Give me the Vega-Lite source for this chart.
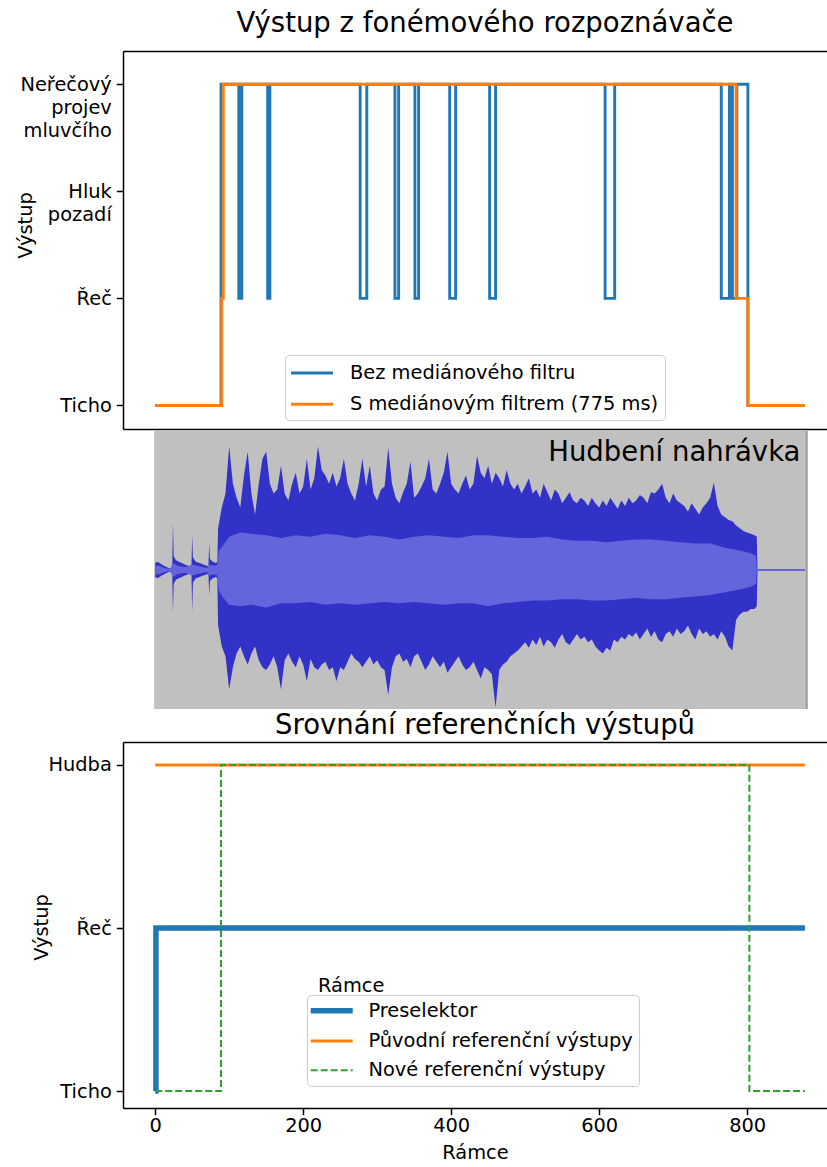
{
  "$schema": "https://vega.github.io/schema/vega-lite/v6.json",
  "padding": {"left": 15, "top": 9, "right": 0, "bottom": 0},
  "background": "white",
  "spacing": 1,
  "config": {
    "font": "DejaVu Sans",
    "view": {"stroke": null},
    "axis": {"labelFont": "DejaVu Sans", "labelFontSize": 19.4, "labelColor": "black", "titleFont": "DejaVu Sans", "titleFontSize": 19.4, "titleFontWeight": "normal", "titleColor": "black", "domainColor": "black", "domainWidth": 1.5, "tickColor": "black", "tickWidth": 1.5, "tickSize": 6.7, "grid": false},
    "legend": {"labelFont": "DejaVu Sans", "labelFontSize": 19.4, "labelColor": "black", "symbolType": "M-2,0L2,0", "symbolSize": 441, "symbolStrokeWidth": 2.9, "symbolOffset": 9, "labelLimit": 500, "labelOffset": 26, "rowPadding": 9.3, "padding": 6, "strokeColor": "#cccccc", "fillColor": "white", "cornerRadius": 4, "orient": "none", "labelExpr": "datum.label + '\u00a0\u00a0'"},
    "title": {"font": "DejaVu Sans", "fontSize": 27.5, "fontWeight": "normal", "color": "black"}
  },
  "datasets": {
    "topBlue": [
      {"frame": 0, "value": 0, "series": "Bez mediánového filtru"},
      {"frame": 89, "value": 3, "series": "Bez mediánového filtru"},
      {"frame": 113, "value": 1, "series": "Bez mediánového filtru"},
      {"frame": 117, "value": 3, "series": "Bez mediánového filtru"},
      {"frame": 152, "value": 1, "series": "Bez mediánového filtru"},
      {"frame": 155, "value": 3, "series": "Bez mediánového filtru"},
      {"frame": 277, "value": 1, "series": "Bez mediánového filtru"},
      {"frame": 286, "value": 3, "series": "Bez mediánového filtru"},
      {"frame": 324, "value": 1, "series": "Bez mediánového filtru"},
      {"frame": 329, "value": 3, "series": "Bez mediánového filtru"},
      {"frame": 351, "value": 1, "series": "Bez mediánového filtru"},
      {"frame": 356, "value": 3, "series": "Bez mediánového filtru"},
      {"frame": 398, "value": 1, "series": "Bez mediánového filtru"},
      {"frame": 406, "value": 3, "series": "Bez mediánového filtru"},
      {"frame": 452, "value": 1, "series": "Bez mediánového filtru"},
      {"frame": 460, "value": 3, "series": "Bez mediánového filtru"},
      {"frame": 608, "value": 1, "series": "Bez mediánového filtru"},
      {"frame": 621, "value": 3, "series": "Bez mediánového filtru"},
      {"frame": 765, "value": 1, "series": "Bez mediánového filtru"},
      {"frame": 776, "value": 3, "series": "Bez mediánového filtru"},
      {"frame": 780, "value": 1, "series": "Bez mediánového filtru"},
      {"frame": 786, "value": 3, "series": "Bez mediánového filtru"},
      {"frame": 801, "value": 0, "series": "Bez mediánového filtru"},
      {"frame": 878, "value": 0, "series": "Bez mediánového filtru"}
    ],
    "topOrange": [
      {"frame": 0, "value": 0, "series": "S mediánovým filtrem (775 ms)"},
      {"frame": 90, "value": 1, "series": "S mediánovým filtrem (775 ms)"},
      {"frame": 92, "value": 3, "series": "S mediánovým filtrem (775 ms)"},
      {"frame": 785, "value": 1, "series": "S mediánovým filtrem (775 ms)"},
      {"frame": 801, "value": 0, "series": "S mediánovým filtrem (775 ms)"},
      {"frame": 878, "value": 0, "series": "S mediánovým filtrem (775 ms)"}
    ],
    "wave": [
      {"f": 0, "hi": 0.05, "lo": -0.05}, {"f": 3, "hi": 0.06, "lo": -0.06}, {"f": 6, "hi": 0.05, "lo": -0.05}, {"f": 9, "hi": 0.04, "lo": -0.04},
      {"f": 12, "hi": 0.03, "lo": -0.03}, {"f": 16, "hi": 0.02, "lo": -0.02}, {"f": 20, "hi": 0.01, "lo": -0.01}, {"f": 23, "hi": 0.02, "lo": -0.02},
      {"f": 24, "hi": 0.34, "lo": -0.31}, {"f": 25, "hi": 0.1, "lo": -0.1}, {"f": 28, "hi": 0.07, "lo": -0.07}, {"f": 32, "hi": 0.06, "lo": -0.06},
      {"f": 36, "hi": 0.05, "lo": -0.05}, {"f": 40, "hi": 0.04, "lo": -0.04}, {"f": 45, "hi": 0.03, "lo": -0.03}, {"f": 49, "hi": 0.02, "lo": -0.02},
      {"f": 50, "hi": 0.25, "lo": -0.3}, {"f": 51, "hi": 0.09, "lo": -0.09}, {"f": 55, "hi": 0.06, "lo": -0.06}, {"f": 60, "hi": 0.05, "lo": -0.05},
      {"f": 65, "hi": 0.04, "lo": -0.04}, {"f": 70, "hi": 0.03, "lo": -0.03}, {"f": 72, "hi": 0.03, "lo": -0.03}, {"f": 73, "hi": 0.19, "lo": -0.18},
      {"f": 74, "hi": 0.08, "lo": -0.08}, {"f": 78, "hi": 0.06, "lo": -0.06}, {"f": 82, "hi": 0.05, "lo": -0.05}, {"f": 84, "hi": 0.06, "lo": -0.06},
      {"f": 85, "hi": 0.3, "lo": -0.4}, {"f": 90, "hi": 0.45, "lo": -0.55}, {"f": 95, "hi": 0.55, "lo": -0.62}, {"f": 100, "hi": 0.89, "lo": -0.86},
      {"f": 105, "hi": 0.62, "lo": -0.7}, {"f": 110, "hi": 0.52, "lo": -0.6}, {"f": 115, "hi": 0.45, "lo": -0.55}, {"f": 120, "hi": 0.68, "lo": -0.62},
      {"f": 125, "hi": 0.85, "lo": -0.68}, {"f": 130, "hi": 0.55, "lo": -0.6}, {"f": 135, "hi": 0.4, "lo": -0.55}, {"f": 140, "hi": 0.62, "lo": -0.65},
      {"f": 145, "hi": 0.8, "lo": -0.7}, {"f": 150, "hi": 0.85, "lo": -0.72}, {"f": 155, "hi": 0.62, "lo": -0.68}, {"f": 160, "hi": 0.55, "lo": -0.62},
      {"f": 165, "hi": 0.58, "lo": -0.7}, {"f": 170, "hi": 0.75, "lo": -0.86}, {"f": 175, "hi": 0.55, "lo": -0.65}, {"f": 180, "hi": 0.5, "lo": -0.6},
      {"f": 185, "hi": 0.62, "lo": -0.66}, {"f": 190, "hi": 0.7, "lo": -0.7}, {"f": 195, "hi": 0.55, "lo": -0.62}, {"f": 200, "hi": 0.6, "lo": -0.68},
      {"f": 205, "hi": 0.8, "lo": -0.8}, {"f": 210, "hi": 0.58, "lo": -0.64}, {"f": 215, "hi": 0.66, "lo": -0.7}, {"f": 220, "hi": 0.89, "lo": -0.72},
      {"f": 225, "hi": 0.72, "lo": -0.68}, {"f": 230, "hi": 0.68, "lo": -0.66}, {"f": 235, "hi": 0.62, "lo": -0.72}, {"f": 240, "hi": 0.7, "lo": -0.7},
      {"f": 245, "hi": 0.6, "lo": -0.8}, {"f": 250, "hi": 0.66, "lo": -0.7}, {"f": 255, "hi": 0.8, "lo": -0.72}, {"f": 260, "hi": 0.62, "lo": -0.66},
      {"f": 265, "hi": 0.55, "lo": -0.6}, {"f": 270, "hi": 0.5, "lo": -0.64}, {"f": 275, "hi": 0.62, "lo": -0.66}, {"f": 280, "hi": 0.8, "lo": -0.7},
      {"f": 285, "hi": 0.6, "lo": -0.66}, {"f": 290, "hi": 0.75, "lo": -0.62}, {"f": 295, "hi": 0.55, "lo": -0.68}, {"f": 300, "hi": 0.5, "lo": -0.65},
      {"f": 305, "hi": 0.58, "lo": -0.7}, {"f": 310, "hi": 0.6, "lo": -0.72}, {"f": 315, "hi": 0.88, "lo": -0.9}, {"f": 320, "hi": 0.62, "lo": -0.7},
      {"f": 325, "hi": 0.52, "lo": -0.62}, {"f": 330, "hi": 0.48, "lo": -0.6}, {"f": 335, "hi": 0.56, "lo": -0.66}, {"f": 340, "hi": 0.62, "lo": -0.64},
      {"f": 345, "hi": 0.78, "lo": -0.7}, {"f": 350, "hi": 0.52, "lo": -0.62}, {"f": 355, "hi": 0.55, "lo": -0.6}, {"f": 360, "hi": 0.6, "lo": -0.66},
      {"f": 365, "hi": 0.66, "lo": -0.72}, {"f": 370, "hi": 0.8, "lo": -0.68}, {"f": 375, "hi": 0.58, "lo": -0.62}, {"f": 380, "hi": 0.55, "lo": -0.66},
      {"f": 385, "hi": 0.62, "lo": -0.7}, {"f": 390, "hi": 0.7, "lo": -0.66}, {"f": 395, "hi": 0.85, "lo": -0.74}, {"f": 400, "hi": 0.62, "lo": -0.7},
      {"f": 405, "hi": 0.58, "lo": -0.66}, {"f": 410, "hi": 0.55, "lo": -0.62}, {"f": 415, "hi": 0.62, "lo": -0.68}, {"f": 420, "hi": 0.68, "lo": -0.72},
      {"f": 425, "hi": 0.58, "lo": -0.7}, {"f": 430, "hi": 0.62, "lo": -0.66}, {"f": 435, "hi": 0.82, "lo": -0.72}, {"f": 440, "hi": 0.7, "lo": -0.78},
      {"f": 445, "hi": 0.66, "lo": -0.7}, {"f": 450, "hi": 0.75, "lo": -0.72}, {"f": 455, "hi": 0.62, "lo": -0.75}, {"f": 460, "hi": 0.7, "lo": -0.99},
      {"f": 465, "hi": 0.66, "lo": -0.72}, {"f": 470, "hi": 0.6, "lo": -0.68}, {"f": 475, "hi": 0.72, "lo": -0.66}, {"f": 480, "hi": 0.62, "lo": -0.62},
      {"f": 485, "hi": 0.58, "lo": -0.6}, {"f": 490, "hi": 0.62, "lo": -0.58}, {"f": 495, "hi": 0.55, "lo": -0.55}, {"f": 500, "hi": 0.6, "lo": -0.52},
      {"f": 505, "hi": 0.66, "lo": -0.56}, {"f": 510, "hi": 0.55, "lo": -0.5}, {"f": 515, "hi": 0.58, "lo": -0.54}, {"f": 520, "hi": 0.52, "lo": -0.48},
      {"f": 525, "hi": 0.62, "lo": -0.55}, {"f": 530, "hi": 0.56, "lo": -0.5}, {"f": 535, "hi": 0.5, "lo": -0.52}, {"f": 540, "hi": 0.58, "lo": -0.56},
      {"f": 545, "hi": 0.55, "lo": -0.5}, {"f": 550, "hi": 0.48, "lo": -0.46}, {"f": 555, "hi": 0.52, "lo": -0.52}, {"f": 560, "hi": 0.56, "lo": -0.54},
      {"f": 565, "hi": 0.5, "lo": -0.5}, {"f": 570, "hi": 0.48, "lo": -0.46}, {"f": 575, "hi": 0.52, "lo": -0.5}, {"f": 580, "hi": 0.5, "lo": -0.48},
      {"f": 585, "hi": 0.46, "lo": -0.52}, {"f": 590, "hi": 0.52, "lo": -0.5}, {"f": 595, "hi": 0.48, "lo": -0.55}, {"f": 600, "hi": 0.45, "lo": -0.58},
      {"f": 605, "hi": 0.5, "lo": -0.6}, {"f": 610, "hi": 0.46, "lo": -0.56}, {"f": 615, "hi": 0.52, "lo": -0.58}, {"f": 620, "hi": 0.48, "lo": -0.5},
      {"f": 625, "hi": 0.44, "lo": -0.52}, {"f": 630, "hi": 0.5, "lo": -0.48}, {"f": 635, "hi": 0.46, "lo": -0.5}, {"f": 640, "hi": 0.52, "lo": -0.46},
      {"f": 645, "hi": 0.48, "lo": -0.48}, {"f": 650, "hi": 0.5, "lo": -0.45}, {"f": 655, "hi": 0.54, "lo": -0.5}, {"f": 660, "hi": 0.52, "lo": -0.46},
      {"f": 665, "hi": 0.48, "lo": -0.42}, {"f": 670, "hi": 0.56, "lo": -0.48}, {"f": 675, "hi": 0.55, "lo": -0.44}, {"f": 680, "hi": 0.58, "lo": -0.5},
      {"f": 685, "hi": 0.62, "lo": -0.52}, {"f": 690, "hi": 0.52, "lo": -0.46}, {"f": 695, "hi": 0.48, "lo": -0.44}, {"f": 700, "hi": 0.55, "lo": -0.48},
      {"f": 705, "hi": 0.5, "lo": -0.42}, {"f": 710, "hi": 0.48, "lo": -0.46}, {"f": 715, "hi": 0.46, "lo": -0.44}, {"f": 720, "hi": 0.42, "lo": -0.4},
      {"f": 725, "hi": 0.48, "lo": -0.46}, {"f": 730, "hi": 0.44, "lo": -0.5}, {"f": 735, "hi": 0.4, "lo": -0.42}, {"f": 740, "hi": 0.45, "lo": -0.46},
      {"f": 745, "hi": 0.48, "lo": -0.44}, {"f": 750, "hi": 0.52, "lo": -0.48}, {"f": 755, "hi": 0.63, "lo": -0.46}, {"f": 760, "hi": 0.46, "lo": -0.5},
      {"f": 765, "hi": 0.4, "lo": -0.44}, {"f": 770, "hi": 0.38, "lo": -0.48}, {"f": 775, "hi": 0.36, "lo": -0.55}, {"f": 780, "hi": 0.35, "lo": -0.58},
      {"f": 785, "hi": 0.32, "lo": -0.36}, {"f": 790, "hi": 0.3, "lo": -0.32}, {"f": 795, "hi": 0.28, "lo": -0.3}, {"f": 800, "hi": 0.27, "lo": -0.3},
      {"f": 805, "hi": 0.26, "lo": -0.28}, {"f": 810, "hi": 0.25, "lo": -0.28}, {"f": 813, "hi": 0.24, "lo": -0.26}, {"f": 814, "hi": 0.008, "lo": -0.008}
    ],
    "rms": [
      {"f": 0, "hi": 0.03, "lo": -0.03}, {"f": 6, "hi": 0.03, "lo": -0.03}, {"f": 12, "hi": 0.015, "lo": -0.015}, {"f": 20, "hi": 0.008, "lo": -0.008},
      {"f": 24, "hi": 0.05, "lo": -0.05}, {"f": 30, "hi": 0.03, "lo": -0.03}, {"f": 40, "hi": 0.02, "lo": -0.02}, {"f": 50, "hi": 0.04, "lo": -0.04},
      {"f": 60, "hi": 0.025, "lo": -0.025}, {"f": 70, "hi": 0.015, "lo": -0.015}, {"f": 73, "hi": 0.04, "lo": -0.04}, {"f": 80, "hi": 0.03, "lo": -0.03},
      {"f": 84, "hi": 0.04, "lo": -0.04}, {"f": 86, "hi": 0.14, "lo": -0.15}, {"f": 92, "hi": 0.18, "lo": -0.2}, {"f": 100, "hi": 0.24, "lo": -0.25},
      {"f": 115, "hi": 0.27, "lo": -0.26}, {"f": 130, "hi": 0.26, "lo": -0.25}, {"f": 150, "hi": 0.25, "lo": -0.27}, {"f": 170, "hi": 0.23, "lo": -0.24},
      {"f": 190, "hi": 0.25, "lo": -0.24}, {"f": 210, "hi": 0.24, "lo": -0.23}, {"f": 230, "hi": 0.26, "lo": -0.25}, {"f": 250, "hi": 0.25, "lo": -0.24},
      {"f": 270, "hi": 0.23, "lo": -0.25}, {"f": 290, "hi": 0.25, "lo": -0.24}, {"f": 310, "hi": 0.24, "lo": -0.23}, {"f": 330, "hi": 0.22, "lo": -0.24},
      {"f": 350, "hi": 0.24, "lo": -0.23}, {"f": 370, "hi": 0.25, "lo": -0.24}, {"f": 390, "hi": 0.24, "lo": -0.25}, {"f": 410, "hi": 0.23, "lo": -0.24},
      {"f": 430, "hi": 0.25, "lo": -0.24}, {"f": 450, "hi": 0.25, "lo": -0.26}, {"f": 470, "hi": 0.24, "lo": -0.24}, {"f": 490, "hi": 0.23, "lo": -0.23},
      {"f": 510, "hi": 0.23, "lo": -0.22}, {"f": 530, "hi": 0.24, "lo": -0.22}, {"f": 550, "hi": 0.22, "lo": -0.21}, {"f": 570, "hi": 0.21, "lo": -0.21},
      {"f": 590, "hi": 0.21, "lo": -0.22}, {"f": 610, "hi": 0.2, "lo": -0.22}, {"f": 630, "hi": 0.21, "lo": -0.21}, {"f": 650, "hi": 0.22, "lo": -0.2},
      {"f": 670, "hi": 0.22, "lo": -0.21}, {"f": 690, "hi": 0.21, "lo": -0.21}, {"f": 710, "hi": 0.2, "lo": -0.2}, {"f": 730, "hi": 0.19, "lo": -0.19},
      {"f": 750, "hi": 0.19, "lo": -0.18}, {"f": 770, "hi": 0.16, "lo": -0.16}, {"f": 790, "hi": 0.14, "lo": -0.14}, {"f": 805, "hi": 0.12, "lo": -0.12},
      {"f": 812, "hi": 0.1, "lo": -0.1}, {"f": 813, "hi": 0.008, "lo": -0.008}, {"f": 878, "hi": 0.008, "lo": -0.008}
    ],
    "pre": [
      {"frame": 0, "value": 0, "series": "Preselektor"},
      {"frame": 1, "value": 1, "series": "Preselektor"},
      {"frame": 878, "value": 1, "series": "Preselektor"}
    ],
    "orig": [
      {"frame": 0, "value": 2, "series": "Původní referenční výstupy"},
      {"frame": 878, "value": 2, "series": "Původní referenční výstupy"}
    ],
    "nove": [
      {"frame": 0, "value": 0, "series": "Nové referenční výstupy"},
      {"frame": 89, "value": 2, "series": "Nové referenční výstupy"},
      {"frame": 803, "value": 0, "series": "Nové referenční výstupy"},
      {"frame": 878, "value": 0, "series": "Nové referenční výstupy"}
    ]
  },
  "resolve": {"scale": {"color": "independent", "x": "independent", "y": "independent"}, "legend": {"color": "independent"}},
  "vconcat": [
    {
      "width": 704,
      "height": 378,
      "title": {"text": "Výstup z fonémového rozpoznávače", "anchor": "middle", "dx": 10, "offset": 14},
      "resolve": {"axis": {"x": "independent"}},
      "layer": [
        {
          "data": {"name": "topBlue"},
          "mark": {"type": "line", "interpolate": "step-after", "strokeWidth": 2.9},
          "encoding": {
            "x": {"field": "frame", "type": "quantitative", "scale": {"domain": [-43.5, 907.9], "nice": false, "zero": false}, "axis": {"labels": false, "ticks": false, "title": null, "domain": true}},
            "y": {"field": "value", "type": "quantitative", "scale": {"domain": [-0.22, 3.31], "nice": false, "zero": false},
                  "axis": {"values": [0, 1, 2, 3], "labelExpr": "datum.value == 3 ? ['Neřečový', 'projev', 'mluvčího'] : datum.value == 2 ? ['Hluk', 'pozadí'] : datum.value == 1 ? 'Řeč' : 'Ticho'", "labelLineHeight": 23.3, "labelPadding": 5, "labelBaseline": "middle", "title": "Výstup", "titleX": -98, "titleY": 174, "titleBaseline": "middle", "titleAngle": 270}},
            "color": {"field": "series", "type": "nominal",
                      "scale": {"domain": ["Bez mediánového filtru", "S mediánovým filtrem (775 ms)"], "range": ["#1f77b4", "#ff7f0e"]},
                      "legend": {"title": null, "legendX": 162, "legendY": 304}}
          }
        },
        {
          "data": {"name": "topOrange"},
          "mark": {"type": "line", "interpolate": "step-after", "strokeWidth": 2.9},
          "encoding": {
            "x": {"field": "frame", "type": "quantitative", "axis": {"orient": "top", "labels": false, "ticks": false, "title": null, "domain": true}},
            "y": {"field": "value", "type": "quantitative"},
            "color": {"field": "series", "type": "nominal"}
          }
        }
      ]
    },
    {
      "width": 704,
      "height": 278,
      "layer": [
        {
          "data": {"values": [{}]},
          "mark": {"type": "rect", "color": "#c0c0c0"},
          "encoding": {
            "x": {"datum": -1.4, "type": "quantitative", "scale": {"domain": [-43.5, 907.9], "nice": false, "zero": false}, "axis": null},
            "x2": {"datum": 880},
            "y": {"datum": -1, "type": "quantitative", "scale": {"domain": [-1, 1], "nice": false, "zero": false}, "axis": null},
            "y2": {"datum": 1}
          }
        },
        {
          "data": {"values": [{}]},
          "mark": {"type": "rule", "color": "#9a9a9a", "strokeWidth": 2},
          "encoding": {
            "x": {"datum": 880.5, "type": "quantitative"},
            "y": {"datum": -1, "type": "quantitative"},
            "y2": {"datum": 1}
          }
        },
        {
          "data": {"name": "wave"},
          "mark": {"type": "area", "color": "#3232c8", "opacity": 1},
          "encoding": {
            "x": {"field": "f", "type": "quantitative"},
            "y": {"field": "hi", "type": "quantitative"},
            "y2": {"field": "lo"}
          }
        },
        {
          "data": {"name": "rms"},
          "mark": {"type": "area", "color": "#6464dc", "opacity": 1},
          "encoding": {
            "x": {"field": "f", "type": "quantitative"},
            "y": {"field": "hi", "type": "quantitative"},
            "y2": {"field": "lo"}
          }
        },
        {
          "data": {"values": [{}]},
          "mark": {"type": "text", "text": "Hudbení nahrávka", "align": "right", "baseline": "alphabetic", "dy": 30, "fontSize": 27.5, "font": "DejaVu Sans", "color": "black"},
          "encoding": {
            "x": {"datum": 872, "type": "quantitative"},
            "y": {"datum": 1, "type": "quantitative"}
          }
        }
      ]
    },
    {
      "width": 704,
      "height": 366,
      "title": {"text": "Srovnání referenčních výstupů", "anchor": "middle", "dx": 10, "offset": 3},
      "resolve": {"axis": {"x": "independent"}},
      "layer": [
        {
          "data": {"name": "pre"},
          "mark": {"type": "line", "interpolate": "step-after", "strokeWidth": 5.5},
          "encoding": {
            "x": {"field": "frame", "type": "quantitative", "scale": {"domain": [-43.5, 907.9], "nice": false, "zero": false},
                  "axis": {"values": [0, 200, 400, 600, 800], "title": "Rámce", "labelPadding": 2, "titlePadding": 8, "labelFlush": false}},
            "y": {"field": "value", "type": "quantitative", "scale": {"domain": [-0.104, 2.141], "nice": false, "zero": false},
                  "axis": {"values": [0, 1, 2], "labelExpr": "datum.value == 2 ? 'Hudba' : datum.value == 1 ? 'Řeč' : 'Ticho'", "labelPadding": 5, "labelBaseline": "middle", "title": "Výstup", "titleX": -82, "titleY": 185, "titleBaseline": "middle", "titleAngle": 270}},
            "color": {"field": "series", "type": "nominal",
                      "scale": {"domain": ["Preselektor", "Původní referenční výstupy", "Nové referenční výstupy"], "range": ["#1f77b4", "#ff7f0e", "#2ca02c"]},
                      "legend": {"title": null, "legendX": 184, "legendY": 253, "rowPadding": 8.3, "labelOffset": 27, "labelExpr": "datum.label + '\u00a0\u00a0\u00a0\u00a0'",
                                 "encode": {"symbols": {"update": {
                                   "strokeWidth": {"signal": "datum.value == 'Preselektor' ? 5.5 : datum.value == 'Nové referenční výstupy' ? 2 : 2.9"},
                                   "strokeDash": {"signal": "datum.value == 'Nové referenční výstupy' ? [7, 3] : [1, 0]"}}}}}}
          }
        },
        {
          "data": {"name": "orig"},
          "mark": {"type": "line", "interpolate": "step-after", "strokeWidth": 2.9},
          "encoding": {
            "x": {"field": "frame", "type": "quantitative", "axis": {"orient": "top", "labels": false, "ticks": false, "title": null, "domain": true}},
            "y": {"field": "value", "type": "quantitative"},
            "color": {"field": "series", "type": "nominal"}
          }
        },
        {
          "data": {"name": "nove"},
          "mark": {"type": "line", "interpolate": "step-after", "strokeWidth": 2, "strokeDash": [7, 3]},
          "encoding": {
            "x": {"field": "frame", "type": "quantitative", "axis": null},
            "y": {"field": "value", "type": "quantitative"},
            "color": {"field": "series", "type": "nominal"}
          }
        },
        {
          "data": {"values": [{}]},
          "mark": {"type": "text", "text": "Rámce", "align": "left", "baseline": "middle", "fontSize": 19.4, "font": "DejaVu Sans", "color": "black"},
          "encoding": {
            "x": {"datum": 220, "type": "quantitative", "axis": null},
            "y": {"datum": 0.643, "type": "quantitative"}
          }
        }
      ]
    }
  ]
}
